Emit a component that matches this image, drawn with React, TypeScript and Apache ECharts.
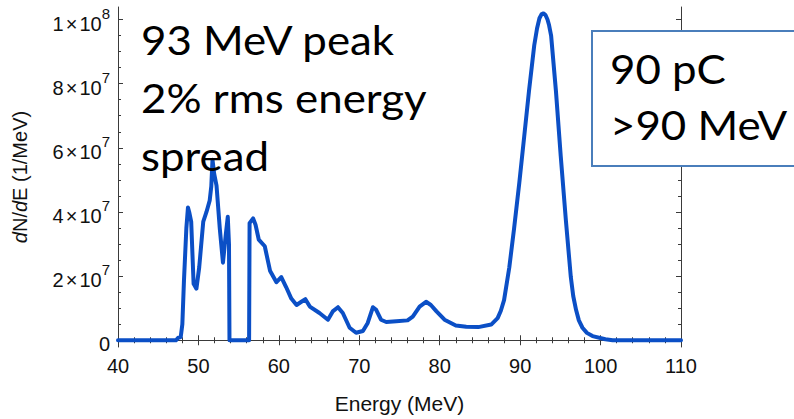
import React, { useEffect, useRef } from "react";
import * as echarts from "echarts";

// Electron energy spectrum: dN/dE in units of 10^6 per MeV
const energyMeV = [
  40, 47.2, 47.5, 47.8, 48.0, 48.2, 48.5, 48.7, 48.85, 49.1, 49.4, 49.75, 50.1, 50.6,
  51.0, 51.4, 51.6, 51.75, 51.95, 52.25, 52.65, 53.05, 53.4, 53.65, 53.8, 53.86,
  56.3, 56.36, 56.8, 57.1, 57.5, 58.25, 58.9, 59.7, 60.3, 60.9, 61.55, 62.2, 62.8,
  63.3, 63.85, 65.05, 66.1, 66.7, 67.35, 67.95, 68.8, 69.6, 70.45, 71.05, 71.7,
  72.1, 72.7, 73.35, 74.6, 76.0, 76.65, 77.5, 78.3, 78.9, 79.6, 80.6, 82.0, 83.3,
  84.8, 86.4, 87.2, 87.6, 88.0, 88.65, 89.25, 89.9, 90.5, 91.1, 91.75, 92.1, 92.4,
  92.65, 92.9, 93.15, 93.4, 93.6, 93.85, 94.45, 95.05, 95.7, 96.3, 96.6, 96.95,
  97.3, 97.75, 98.3, 99.0, 100.6, 101.5, 110,
];
const dNdEMillions = [
  0, 0, 0.8, 1.0, 5, 18.5, 35, 41.4, 40, 37, 17.6, 16.1, 22.8, 37,
  40, 43.6, 48, 56.3, 52, 48.2, 35, 24.2, 32.9, 38.5, 29.8, 0,
  0, 36.5, 38, 36, 31.4, 29.3, 21.7, 18.1, 19.7, 16.6, 13.0, 11.0, 12.0,
  12.8, 10.5, 8.5, 6.4, 9.0, 10.3, 8.5, 3.9, 2.35, 2.9, 5.4, 10.3,
  9.5, 6.4, 5.7, 5.9, 6.2, 7.4, 10.5, 12.0, 11.0, 9.0, 6.4, 4.6, 4.2,
  4.1, 4.9, 6.9, 9.2, 12.5, 22.7, 34.9, 49.2, 63.4, 77.7, 91.9, 97.2, 100.4,
  101.6, 101.9, 101.4, 100, 98.2, 95, 77.7, 57.3, 37, 19.7, 13.8, 9.5,
  6.2, 3.9, 2.3, 1.3, 0.3, 0, 0,
];

const yMajorTicks = [0, 2e7, 4e7, 6e7, 8e7, 1e8];
const yMinorTicks = [
  5e6, 1e7, 1.5e7, 2.5e7, 3e7, 3.5e7, 4.5e7, 5e7, 5.5e7, 6.5e7, 7e7, 7.5e7,
  8.5e7, 9e7, 9.5e7,
];

const peakNotes = ["93 MeV peak", "2% rms energy", "spread"];
const chargeNotes = ["90 pC", ">90 MeV"];

const X_MIN = 40;
const X_MAX = 110;
const Y_MIN = -2.1e6;
const Y_MAX = 1.039e8;

const FRAME = "#3a3a3a";
const AXIS_FONT = "'Liberation Sans', Arial, sans-serif";
const NOTE_FONT = "Lato, 'Open Sans', sans-serif";

function sciLabel(v: number): string {
  if (v === 0) return "{m|0}";
  const exp = Math.floor(Math.log10(v) + 1e-9);
  const mant = Math.round(v / Math.pow(10, exp));
  return `{m|${mant}}{x|×}{m|10}{s|${exp}}`;
}

export default function App() {
  const ref = useRef<HTMLDivElement>(null);

  useEffect(() => {
    document.body.style.margin = "0";
    if (!ref.current) return;
    const chart = echarts.init(ref.current, null, { renderer: "svg" });

    const data = energyMeV.map((e, i) => [e, dNdEMillions[i] * 1e6]);

    const tickStyle = { color: FRAME, width: 1 };
    const xBase = {
      type: "value" as const,
      min: X_MIN,
      max: X_MAX,
      interval: 10,
      splitLine: { show: false },
      axisLine: { show: true, lineStyle: tickStyle },
      axisTick: { show: true, inside: true, length: 5, lineStyle: tickStyle },
      minorTick: { show: true, splitNumber: 5, length: 3, lineStyle: tickStyle },
      minorSplitLine: { show: false },
    };
    const yBase = {
      type: "value" as const,
      min: Y_MIN,
      max: Y_MAX,
      splitLine: { show: false },
      axisLine: { show: true, lineStyle: tickStyle },
    };

    const noteText = (t: string, left: number, top: number, z: number) => ({
      type: "text",
      left,
      top,
      z,
      scaleX: 1.07,
      style: { text: t, font: `41px ${NOTE_FONT}`, fill: "#000" },
    });

    chart.setOption({
      animation: false,
      backgroundColor: "#ffffff",
      grid: { left: 118, right: 113, top: 7, bottom: 64.5, containLabel: false },
      xAxis: [
        {
          ...xBase,
          position: "bottom",
          axisLabel: {
            show: true,
            fontSize: 20,
            color: "#111",
            fontFamily: AXIS_FONT,
            margin: 9,
          },
          name: "Energy (MeV)",
          nameLocation: "middle",
          nameGap: 46,
          nameTextStyle: { fontSize: 21, color: "#111", fontFamily: AXIS_FONT },
        },
        {
          ...xBase,
          position: "top",
          axisLabel: { show: false },
        },
      ],
      yAxis: [
        {
          ...yBase,
          position: "left",
          axisTick: {
            show: true,
            inside: true,
            length: 5,
            lineStyle: tickStyle,
            customValues: yMajorTicks,
          },
          axisLabel: {
            show: true,
            customValues: yMajorTicks,
            margin: 8,
            formatter: (v: number) => sciLabel(v),
            rich: {
              m: { fontSize: 20, color: "#111", fontFamily: AXIS_FONT, verticalAlign: "bottom", lineHeight: 28 },
              x: { fontSize: 20, color: "#111", fontFamily: AXIS_FONT, verticalAlign: "bottom", lineHeight: 28, padding: [0, 2, 0, 2] },
              s: { fontSize: 15, color: "#111", fontFamily: AXIS_FONT, verticalAlign: "top", lineHeight: 28 },
            },
          },
          name: "{i|d}N/{i|d}E (1/MeV)",
          nameLocation: "middle",
          nameGap: 88,
          nameRotate: 90,
          nameTextStyle: {
            fontSize: 20,
            color: "#111",
            fontFamily: AXIS_FONT,
            rich: {
              i: { fontSize: 20, fontStyle: "italic", color: "#111", fontFamily: AXIS_FONT },
            },
          },
        },
        {
          ...yBase,
          position: "left",
          axisLine: { show: false },
          axisLabel: { show: false },
          axisTick: {
            show: true,
            inside: true,
            length: 3,
            lineStyle: tickStyle,
            customValues: yMinorTicks,
          },
        },
        {
          ...yBase,
          position: "right",
          axisLabel: { show: false },
          axisTick: {
            show: true,
            inside: true,
            length: 5,
            lineStyle: tickStyle,
            customValues: yMajorTicks,
          },
        },
        {
          ...yBase,
          position: "right",
          axisLine: { show: false },
          axisLabel: { show: false },
          axisTick: {
            show: true,
            inside: true,
            length: 3,
            lineStyle: tickStyle,
            customValues: yMinorTicks,
          },
        },
      ],
      series: [
        {
          type: "line",
          xAxisIndex: 0,
          yAxisIndex: 0,
          data,
          showSymbol: false,
          symbol: "none",
          smooth: false,
          lineStyle: { color: "#0b4fc6", width: 4, join: "round", cap: "round" },
          z: 5,
        },
      ],
      graphic: [
        ...peakNotes.map((t, i) => noteText(t, 141, 19 + i * 58, 10)),
        {
          type: "rect",
          z: 11,
          shape: { x: 592, y: 31, width: 260, height: 135 },
          style: { fill: "#ffffff", stroke: "#4a7ebb", lineWidth: 2 },
        },
        ...chargeNotes.map((t, i) => noteText(t, 610, 48 + i * 56, 12)),
      ],
    });

    return () => chart.dispose();
  }, []);

  return <div ref={ref} style={{ width: 794, height: 419 }} />;
}
